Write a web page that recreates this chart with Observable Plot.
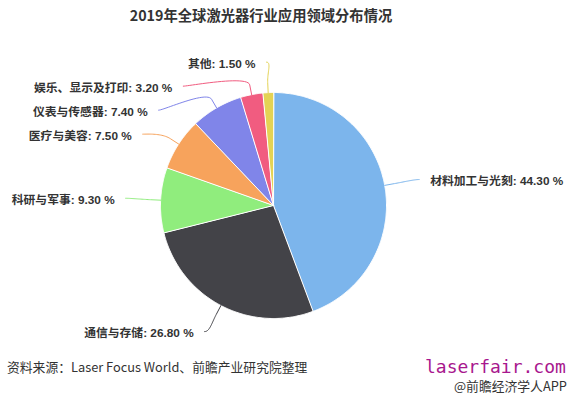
<!DOCTYPE html>
<html>
<head>
<meta charset="utf-8">
<script src="https://cdn.jsdelivr.net/npm/d3@7"></script>
<script src="https://cdn.jsdelivr.net/npm/@observablehq/plot@0.6"></script>
<style>
  html, body { margin: 0; padding: 0; background: #fff; }
  #wrap { position: relative; width: 572px; height: 399px; overflow: hidden; background: #fff; }
  #chart { position: absolute; left: 0; top: 0; }
  #title { position: absolute; left: 0; top: 5px; width: 522px; text-align: center;
           font-family: "Noto Sans CJK SC", sans-serif; font-weight: bold; font-size: 14.3px; color: #333; line-height: 20px; }
  #source { position: absolute; left: 7px; top: 357px; font-family: "Noto Sans CJK SC", sans-serif;
            font-size: 12.8px; color: #333; line-height: 20px; white-space: nowrap; }
  #site { position: absolute; left: 425px; top: 355px; font-family: "DejaVu Sans Mono", monospace;
          font-size: 18px; color: #a8178e; line-height: 24px; white-space: nowrap; }
  #app { position: absolute; left: 454px; top: 377px; font-family: "Noto Sans CJK SC", sans-serif;
         font-size: 12.8px; color: #333; line-height: 18px; white-space: nowrap; }
</style>
</head>
<body>
<div id="wrap">
  <div id="chart"></div>
  <div id="title">2019年全球激光器行业应用领域分布情况</div>
  <div id="source">资料来源：Laser Focus World、前瞻产业研究院整理</div>
  <div id="site">laserfair.com</div>
  <div id="app">@前瞻经济学人APP</div>
</div>
<script>
// ---- data ----
const categories = ["材料加工与光刻", "通信与存储", "科研与军事", "医疗与美容", "仪表与传感器", "娱乐、显示及打印", "其他"];
const shares = [44.30, 26.80, 9.30, 7.50, 7.40, 3.20, 1.50];
const palette = ["#7cb5ec", "#434348", "#90ed7d", "#f7a35c", "#8085e9", "#f15c80", "#e4d354"];

// ---- layout ----
const W = 572, H = 399;
const cx = 273, cy = 205, r = 113;
const LD = 30, RX = 148, GAP = 24;

const data = categories.map((c, i) => ({cat: c, value: shares[i]}));
const arcs = d3.pie().sort(null).value(d => d.value)(data);
const pt = (a, rad) => ({x: cx + rad * Math.sin(a), y: cy - rad * Math.cos(a)});

// slice polygons
const slicePts = [];
arcs.forEach(a => {
  slicePts.push({cat: a.data.cat, ...pt(0, 0)});
  const n = Math.max(2, Math.ceil((a.endAngle - a.startAngle) / 0.01));
  for (let k = 0; k <= n; k++) {
    const ang = a.startAngle + (a.endAngle - a.startAngle) * k / n;
    slicePts.push({cat: a.data.cat, ...pt(ang, r)});
  }
});

// labels
const labels = arcs.map(a => {
  const mid = (a.startAngle + a.endAngle) / 2;
  const left = Math.sin(mid) < 0;
  const ny = cy - (r + LD) * Math.cos(mid) + 1.5;
  return {cat: a.data.cat, value: a.data.value, mid, left, ny, y: ny};
});
for (const side of [true, false]) {
  const ls = labels.filter(l => l.left === side).sort((a, b) => a.ny - b.ny);
  for (let i = 1; i < ls.length; i++) ls[i].y = Math.max(ls[i].ny, ls[i - 1].y + GAP);
}
labels.forEach(l => {
  const s = l.left ? -1 : 1;
  if (Math.abs(l.y - l.ny) < 0.5) l.ax = cx + RX * Math.sin(l.mid);
  else l.ax = cx + s * Math.sqrt(Math.max(0, RX * RX - (l.y - cy) ** 2));
  l.ay = l.y - 2;
  l.tx = l.ax + s * 11;
  l.text = `${l.cat}: ${l.value.toFixed(2)} %`;
});

// connectors (soft curve as in the original)
const conn = [];
labels.forEach(l => {
  const s = l.left ? -1 : 1;
  const touch = pt(l.mid, r), brk = pt(l.mid, r + 10);
  const P0 = {x: l.ax, y: l.ay}, P1 = {x: l.ax - s * 5, y: l.ay};
  const P2 = {x: 2 * brk.x - touch.x, y: 2 * brk.y - touch.y}, P3 = brk;
  for (let k = 0; k <= 24; k++) {
    const t = k / 24, u = 1 - t;
    conn.push({
      cat: l.cat,
      x: u*u*u*P0.x + 3*u*u*t*P1.x + 3*u*t*t*P2.x + t*t*t*P3.x,
      y: u*u*u*P0.y + 3*u*u*t*P1.y + 3*u*t*t*P2.y + t*t*t*P3.y
    });
  }
  conn.push({cat: l.cat, ...touch});
});

const font = "'Liberation Sans', 'Noto Sans CJK SC', sans-serif";
const chart = Plot.plot({
  width: W, height: H, margin: 0,
  style: {background: "transparent", overflow: "visible"},
  x: {domain: [0, W], range: [0, W], axis: null},
  y: {domain: [0, H], range: [0, H], axis: null},
  color: {domain: categories, range: palette},
  marks: [
    Plot.line(slicePts, {x: "x", y: "y", z: "cat", fill: "cat", stroke: "#fff", strokeWidth: 1, curve: "linear-closed"}),
    Plot.line(conn, {x: "x", y: "y", z: "cat", stroke: "cat", strokeWidth: 1}),
    Plot.text(labels.filter(l => l.left), {x: "tx", y: "y", text: "text", textAnchor: "end",
      fill: "#333", fontWeight: "bold", fontSize: 11.8, fontFamily: font}),
    Plot.text(labels.filter(l => !l.left), {x: "tx", y: "y", text: "text", textAnchor: "start",
      fill: "#333", fontWeight: "bold", fontSize: 11.8, fontFamily: font})
  ]
});
document.getElementById("chart").appendChild(chart);
</script>
</body>
</html>
